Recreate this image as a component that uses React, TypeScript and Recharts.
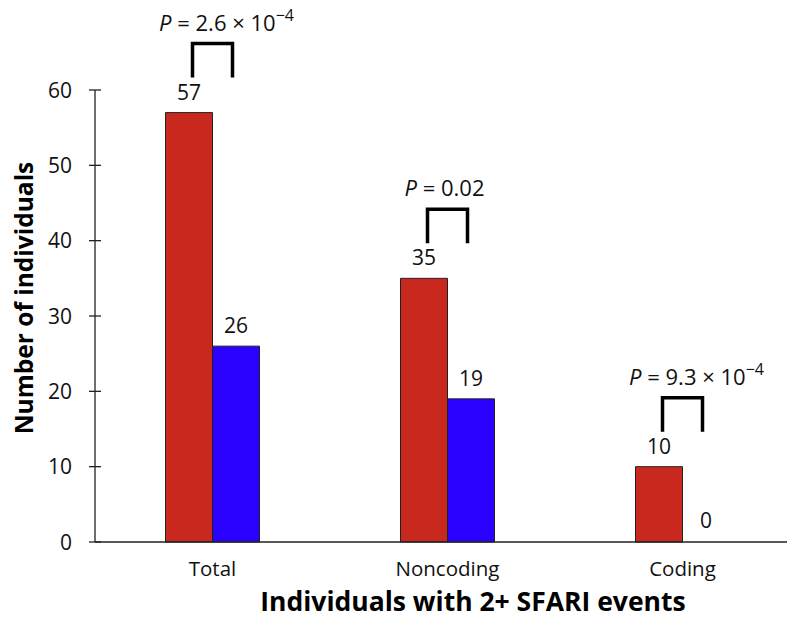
import React from 'react';
import { BarChart, Bar, XAxis, YAxis, LabelList, Cell } from 'recharts';

const categories = ['Total', 'Noncoding', 'Coding'];
const redValues = [57, 35, 10];
const blueValues = [26, 19, 0];
const pMantissa = ['2.6 × 10', '0.02', '9.3 × 10'];
const pExponent = ['−4', '', '−4'];
const yTicks = [0, 10, 20, 30, 40, 50, 60];

const data = categories.map((name, i) => ({
  name,
  red: redValues[i],
  blue: blueValues[i],
}));

const FONT = '"Open Sans", sans-serif';
const RED = '#C9281E';
const BLUE = '#2A00FF';

const YTick = ({ x, y, payload }: any) => (
  <g>
    <line x1={x - 6} x2={x + 6} y1={y} y2={y} stroke="#222" strokeWidth={1.3} />
    <text x={x - 23} y={y} dy="0.36em" textAnchor="end" fontSize={21} fontFamily={FONT} fill="#111">
      {payload.value}
    </text>
  </g>
);

const XTick = ({ x, y, payload }: any) => (
  <text x={x} y={y + 34} textAnchor="middle" fontSize={20.5} fontFamily={FONT} fill="#111">
    {payload.value}
  </text>
);

const YTitle = ({ viewBox }: any) => {
  const cx = viewBox.x + 33;
  const cy = viewBox.y + viewBox.height / 2 - 18;
  return (
    <text
      x={cx}
      y={cy}
      transform={`rotate(-90, ${cx}, ${cy})`}
      textAnchor="middle"
      fontSize={24.5}
      fontWeight="bold"
      fontFamily={FONT}
      fill="#000"
    >
      Number of individuals
    </text>
  );
};

const XTitle = ({ viewBox }: any) => (
  <text
    x={viewBox.x + 378}
    y={viewBox.y + 69}
    textAnchor="middle"
    fontSize={26.5}
    fontWeight="bold"
    fontFamily={FONT}
    fill="#000"
  >
    Individuals with 2+ SFARI events
  </text>
);

// bracket + P value drawn above each red/blue pair
const Bracket = (props: any) => {
  const { x, y, width, index } = props;
  const cx = x + width;
  const bottom = y - 35;
  const top = y - 69;
  const exp = pExponent[index];
  return (
    <g>
      <path
        d={`M${cx - 20},${bottom} L${cx - 20},${top} L${cx + 20},${top} L${cx + 20},${bottom}`}
        fill="none"
        stroke="#000"
        strokeWidth={3.5}
      />
      <text
        x={cx + (exp ? 14 : -3)}
        y={top - 13}
        textAnchor="middle"
        fontSize={22}
        fontFamily={FONT}
        fill="#111"
      >
        <tspan fontStyle="italic">P</tspan>
        <tspan>{` = ${pMantissa[index]}`}</tspan>
        {exp ? (
          <tspan dy={-10} fontSize={16}>
            {exp}
          </tspan>
        ) : null}
      </text>
    </g>
  );
};

export default function App() {
  return (
    <div style={{ position: 'fixed', left: 0, top: 0, width: 787, height: 619, overflow: 'hidden', background: '#fff' }}>
      <BarChart
        width={810}
        height={619}
        data={data}
        margin={{ top: 90, right: 10, bottom: 0, left: 0 }}
        barCategoryGap="30%"
        barGap={0}
      >
        <XAxis
          dataKey="name"
          height={77}
          tickLine={false}
          tickSize={0}
          tickMargin={0}
          axisLine={{ stroke: '#222', strokeWidth: 1.5 }}
          tick={<XTick />}
          label={<XTitle />}
        />
        <YAxis
          width={95}
          domain={[0, 60]}
          ticks={yTicks}
          tickLine={false}
          tickSize={0}
          tickMargin={0}
          axisLine={{ stroke: '#222', strokeWidth: 1.3 }}
          tick={<YTick />}
          label={<YTitle />}
        />
        <Bar dataKey="red" fill={RED} stroke="#222" strokeWidth={1} isAnimationActive={false}>
          <LabelList dataKey="red" position="top" offset={13} fontSize={21} fontFamily={FONT} fill="#111" />
          <LabelList dataKey="red" content={<Bracket />} />
        </Bar>
        <Bar dataKey="blue" fill={BLUE} stroke="#222" strokeWidth={1} minPointSize={1} isAnimationActive={false}>
          {blueValues.map((v, i) => (
            <Cell key={i} fill={v === 0 ? 'none' : BLUE} stroke={v === 0 ? 'none' : '#222'} />
          ))}
          <LabelList dataKey="blue" position="top" offset={13} fontSize={21} fontFamily={FONT} fill="#111" />
        </Bar>
      </BarChart>
    </div>
  );
}
